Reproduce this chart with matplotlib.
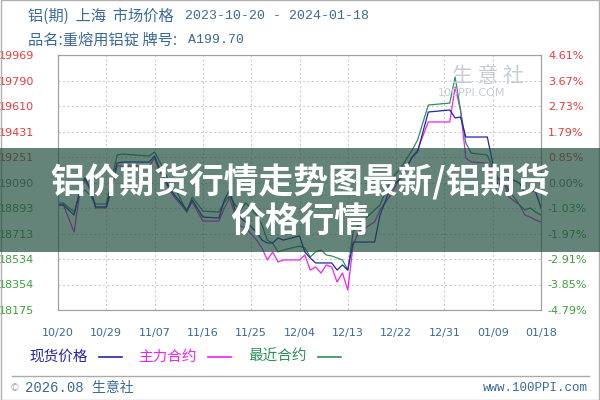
import numpy as np
import matplotlib
matplotlib.use("Agg")
import matplotlib.pyplot as plt
from matplotlib.patches import Rectangle
from matplotlib.lines import Line2D

plt.rcParams["font.family"] = ["DejaVu Sans", "Noto Sans CJK SC"]

# -----------------------------
# Data (day offset from 2023-10-20)
# -----------------------------
days = [0, 1, 3, 4, 5, 6, 7, 9, 10, 11, 12, 17, 18, 19, 21, 22, 24, 25, 27, 30,
        31, 32, 33, 34, 35, 37, 38, 39, 40, 41, 42, 45, 46, 47, 48, 49, 50, 51, 52, 53,
        54, 55, 56, 59, 60, 62, 64, 66, 67, 69, 73, 74, 75, 76, 77, 80, 81, 82, 83, 84,
        86, 87, 88, 89, 90]

spot = [18914, 18914, 18843, 19005, 19104, 19033, 18900, 18900, 19054, 19209,
        19216, 19216, 19258, 19160, 19019, 18970, 18879, 18949, 18829, 18822,
        18949, 19019, 18879, 18822, 18794, 18724, 18667, 18646, 18646, 18682,
        18667, 18696, 18583, 18541, 18506, 18506, 18506, 18506, 18456, 18492,
        18456, 18653, 18653, 18653, 18843, 19040, 19104, 19251, 19287, 19568,
        19582, 19526, 19533, 19392, 19392, 19392, 19209, 19040, 19125, 19104,
        19068, 18998, 19019, 19005, 18893]

main_contract = [18914, 18914, 18724, 18984, 19090, 19019, 18893, 18893, 19019, 19188,
                 19188, 19188, 19244, 19146, 19005, 18956, 18864, 18935, 18801, 18801,
                 18893, 18963, 18843, 18766, 18752, 18667, 18611, 18527, 18583, 18513,
                 18527, 18527, 18562, 18456, 18478, 18435, 18492, 18478, 18372, 18435,
                 18316, 18632, 18724, 18794, 18879, 18984, 19125, 19251, 19301, 19498,
                 19498, 19744, 19582, 19244, 19216, 19209, 19160, 19090, 19090, 18970,
                 18914, 18843, 18829, 18808, 18794]

near_contract = [18928, 18928, 18864, 18984, 19019, 18984, 18921, 18921, 19090, 19265,
                 19272, 19258, 19287, 19216, 19054, 19019, 18864, 18970, 18871, 18864,
                 18935, 18977, 18914, 18879, 18928, 18843, 18773, 18667, 18646, 18583,
                 18597, 18625, 18611, 18548, 18583, 18597, 18562, 18555, 18541, 18527,
                 18456, 18724, 18773, 18879, 18914, 19090, 19181, 19301, 19371, 19617,
                 19631, 19814, 19582, 19350, 19279, 19265, 19174, 19104, 19075, 19019,
                 18914, 18879, 18893, 18864, 18843]

x_labels = ["10/20", "10/29", "11/07", "11/16", "11/25", "12/04",
            "12/13", "12/22", "12/31", "01/09", "01/18"]
left_labels = ["18175", "18354", "18534", "18713", "18893", "19090",
               "19251", "19431", "19610", "19790", "19969"]
right_labels = ["-4.79%", "-3.85%", "-2.91%", "-1.97%", "-1.03%", "0.00%",
                "0.85%", "1.79%", "2.73%", "3.67%", "4.61%"]

BLUE = "#2424a8"
MAGENTA = "#ee22ee"
GREEN = "#2f8f5a"
RED_TXT = "#e83a3a"
GREEN_TXT = "#3aa03a"
GRAY_TXT = "#777777"
HEAD = "#3a6a96"

# -----------------------------
# Figure
# -----------------------------
fig = plt.figure(figsize=(6, 4), dpi=100)
ax = fig.add_axes([58 / 600, 90 / 400, 483 / 600, 255 / 400])
ax.set_xlim(0, 90)
ax.set_ylim(18175, 19969)

yt = np.linspace(18175, 19969, 11)
ax.set_yticks(yt)
ax.set_yticklabels(left_labels)
ax.set_xticks(np.arange(0, 91, 9))
ax.set_xticklabels(x_labels)
ax.grid(color="#cfcfcf", linestyle=(0, (2, 2)), linewidth=0.8)
ax.tick_params(length=0, labelsize=8)
ax.tick_params(axis="y", pad=17)
ax.tick_params(axis="x", pad=13, colors=HEAD)
for s in ax.spines.values():
    s.set_color("#a0a0a0")

ax2 = ax.twinx()
ax2.set_ylim(18175, 19969)
ax2.set_yticks(yt)
ax2.set_yticklabels(right_labels)
ax2.tick_params(length=0, labelsize=8, pad=5)
for s in ax2.spines.values():
    s.set_color("#a0a0a0")

for i, (l1, l2) in enumerate(zip(ax.get_yticklabels(), ax2.get_yticklabels())):
    c = GREEN_TXT if i < 5 else (GRAY_TXT if i == 5 else RED_TXT)
    l1.set_color(c)
    l2.set_color(c)

ax.plot(days, main_contract, color=MAGENTA, lw=0.9, zorder=3)
ax.plot(days, near_contract, color=GREEN, lw=0.9, zorder=3)
ax.plot(days, spot, color=BLUE, lw=0.9, zorder=4)

# watermark
fig.text(452 / 600, 1 - 76 / 400, "生 意 社", fontsize=15, color="#c5ccd6",
         family=["Noto Sans CJK SC"], va="center")
fig.text(438 / 600, 1 - 93 / 400, "100PPI.COM", fontsize=8, color="#c5ccd6", va="center")

# -----------------------------
# Header / legend / footer
# -----------------------------
fig.text(28 / 600, 1 - 16 / 400, "铝(期)  上海  市场价格", fontsize=11, color=HEAD,
         family=["Noto Sans CJK SC"], va="center")
fig.text(185 / 600, 1 - 16 / 400, "2023-10-20 - 2024-01-18", fontsize=9.5, color=HEAD,
         family=["Liberation Mono"], va="center")
fig.text(28 / 600, 1 - 40 / 400, "品名:重熔用铝锭 牌号:", fontsize=11, color=HEAD,
         family=["Noto Sans CJK SC"], va="center")
fig.text(188 / 600, 1 - 40 / 400, "A199.70", fontsize=9.5, color=HEAD,
         family=["Liberation Mono"], va="center")

legend_items = [("现货价格", BLUE, 29), ("主力合约", MAGENTA, 138), ("最近合约", GREEN, 248)]
for name, col, x0 in legend_items:
    fig.text(x0 / 600, 1 - 357 / 400, name, fontsize=10.5, color=col,
             family=["Noto Sans CJK SC"], va="center")
    fig.add_artist(Line2D([(x0 + 70) / 600, (x0 + 93) / 600], [1 - 357 / 400] * 2,
                          color=col, lw=1.2, transform=fig.transFigure))

fig.add_artist(Line2D([12 / 600, 589 / 600], [1 - 376 / 400] * 2, color="#aaaaaa",
                      lw=1, transform=fig.transFigure))
fig.text(10 / 600, 1 - 388 / 400, "©", fontsize=7, color="#aaaaaa", va="center")
fig.text(25 / 600, 1 - 388 / 400, "2026.08 生意社", fontsize=10, color=HEAD,
         family=["Liberation Mono", "Noto Sans CJK SC"], va="center")
fig.text(588 / 600, 1 - 388 / 400, "www.100PPI.com", fontsize=9, color=HEAD,
         family=["Liberation Mono"], va="center", ha="right")

# outer frame
fig.add_artist(Rectangle((0.001, 0.001), 0.998, 0.998, transform=fig.transFigure,
                         fill=False, edgecolor="#b0b0b0", lw=1))

# -----------------------------
# Overlay banner
# -----------------------------
fig.add_artist(Rectangle((0, 1 - 252 / 400), 1, 104 / 400, transform=fig.transFigure,
                         facecolor="#1c4a3a", alpha=0.68, edgecolor="none", zorder=10))
fig.text(0.5, 1 - 181 / 400, "铝价期货行情走势图最新/铝期货", fontsize=25, color="white",
         fontweight="bold", family=["Noto Sans CJK SC"], ha="center", va="center", zorder=11)
fig.text(0.5, 1 - 222 / 400, "价格行情", fontsize=25, color="white",
         fontweight="bold", family=["Noto Sans CJK SC"], ha="center", va="center", zorder=11)

fig.savefig("out.png", dpi=100)
